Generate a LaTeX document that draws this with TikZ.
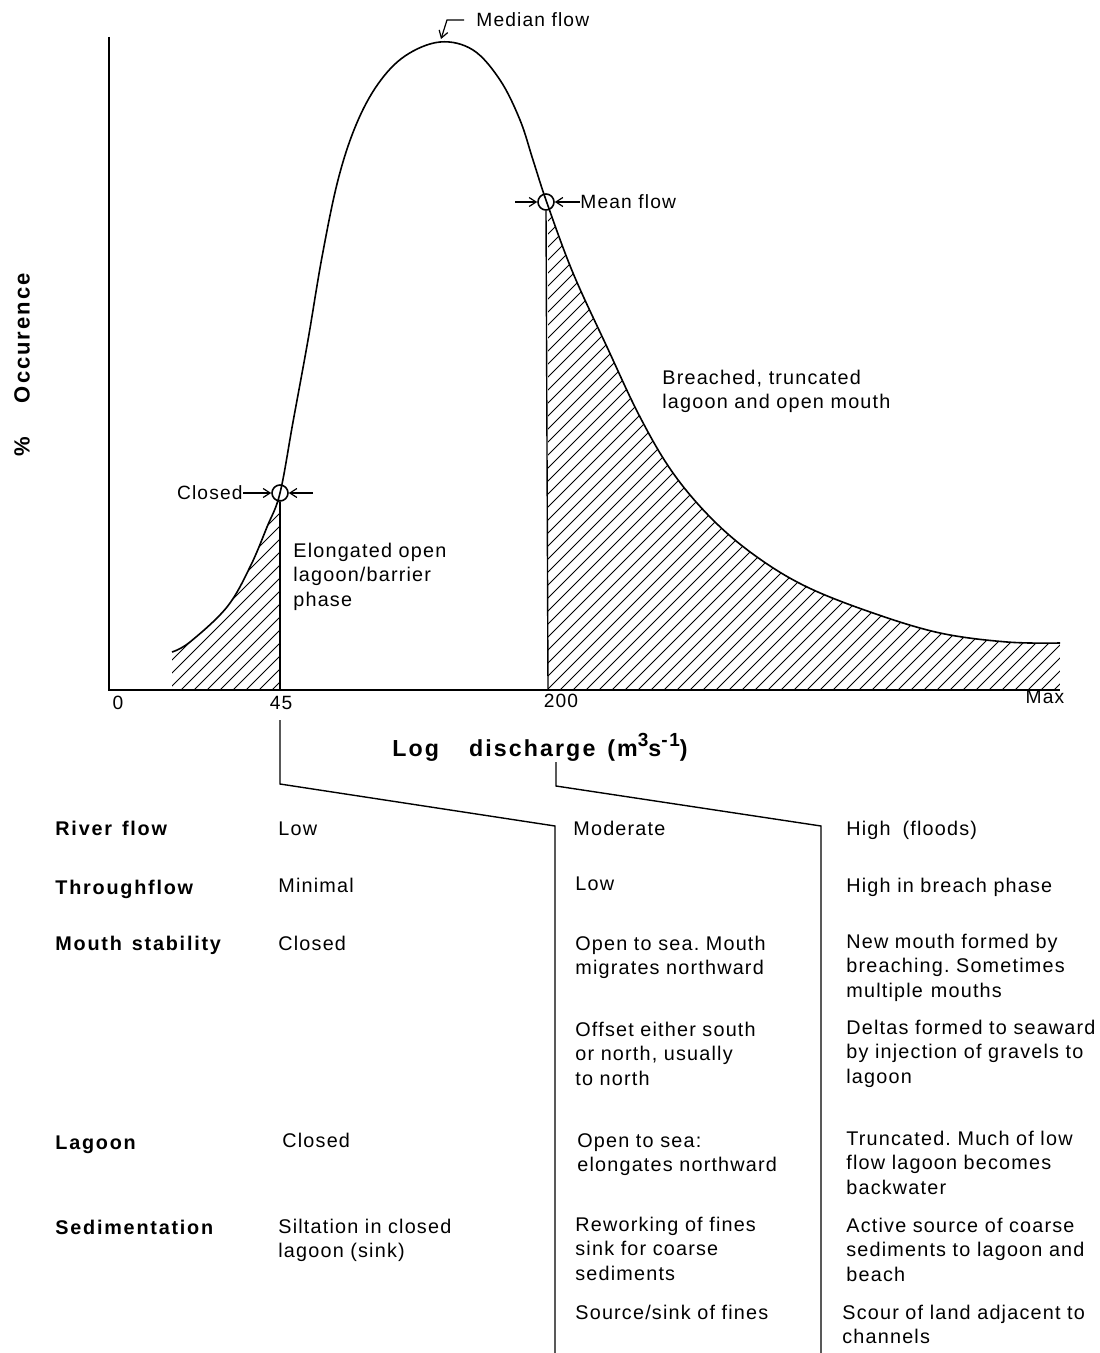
\documentclass[tikz,border=0pt]{standalone}
\usepackage{fontspec}
\setmainfont[LetterSpace=6, BoldFeatures={LetterSpace=9}]{Liberation Sans}
\usetikzlibrary{arrows.meta}

\begin{document}
\frenchspacing
\begin{tikzpicture}[x=0.5pt,y=-0.5pt,
  body/.style={font=\fontsize{9.9}{12.25}\selectfont, anchor=base west,
               inner sep=0pt, text width=200pt, align=left},
  head/.style={body, font=\fontsize{9.9}{12.25}\selectfont\bfseries},
  lbl/.style={font=\fontsize{9.6}{12}\selectfont, inner sep=0pt},
  ring/.style={circle, draw, line width=0.8pt, minimum size=8pt, inner sep=0pt},
  pin/.style={line width=0.6pt, -{Straight Barb[length=3.5pt,width=4.5pt]}},
  hatch/.style={line width=0.45pt},
  axis/.style={line width=1.1pt},
  link/.style={line width=0.7pt},
]
\useasboundingbox (0,0) rectangle (1099,1353);

% frequency curve of discharge
\def\flowcurve{plot[smooth,tension=0.6] coordinates {
  (172,652) (190,642) (227,607) (250,567) (267,527) (280,493) (293,422)
  (308,340) (322,257) (338,180) (356,125) (378,84) (405,56) (440,42)
  (473,50) (500,80) (520,120) (533,160) (547,203) (573,273) (607,347)
  (640,417) (673,473) (713,520) (757,557) (807,587) (873,613) (940,633)
  (1007,642) (1060,643)}}

% hatched areas under the curve
\begin{scope}
  \clip \flowcurve -- (1060,690) -- (172,690) -- cycle;
  \clip (172,0) rectangle (280,690);
  \foreach \k in {0,...,40} \draw[hatch] (-40+13*\k,690) -- ++(600,-600);
\end{scope}
\begin{scope}
  \clip \flowcurve -- (1060,690) -- (172,690) -- cycle;
  \clip (548,0) rectangle (1060,690);
  \foreach \k in {0,...,80} \draw[hatch] (40+13*\k,690) -- ++(600,-600);
\end{scope}

\draw[line width=0.8pt] \flowcurve;

% axes
\draw[axis] (109,37) -- (109,690) -- (1060,690);
\node[lbl] (t0) at (118,703) {0};
\node[lbl] (t45) at (281,703) {45};
\node[lbl] (t200) at (561,701) {200};
\node[lbl] (tmax) at (1045,697) {Max};
\node[font=\fontsize{11.6}{13}\selectfont\bfseries, inner sep=0pt, anchor=west] (xlab) at (392,747)
  {Log\hspace{15pt}discharge\hspace{6pt}(m\raisebox{5pt}{\fontsize{9.5}{10}\selectfont 3}s\raisebox{5pt}{\fontsize{9.5}{10}\selectfont -1})};
\node[font=\fontsize{11}{13}\selectfont\bfseries, inner sep=0pt, rotate=90] (ylab) at (22,365)
  {\%\hspace{17pt}Occurence};

% threshold markers
\node[ring] (closedpt) at (280,493) {};
\node[ring] (meanpt) at (546,202) {};
\draw[link] (closedpt.south) -- (280,690);
\draw[link] (meanpt.south) -- (548,690);

\node[lbl, anchor=east] (closedlbl) at (243,493) {Closed};
\coordinate (closedr) at (313,493);
\draw[pin] (closedlbl.east) -- (closedpt.west);
\draw[pin] (closedr) -- (closedpt.east);

\node[lbl, anchor=west] (meanlbl) at (580,202) {Mean flow};
\coordinate (meanl) at (515,202);
\draw[pin] (meanl) -- (meanpt.west);
\draw[pin] (meanlbl.west) -- (meanpt.east);

\node[lbl, anchor=west] (medlbl) at (476,20) {Median flow};
\coordinate (medianpt) at (441,39);
\draw[pin] ([xshift=-6pt]medlbl.west) -- (447,20) -- (medianpt);

\node[body] (phaseA) at (293,557) {Elongated open\\lagoon/barrier\\phase};
\node[body] (phaseB) at (662,384) {Breached, truncated\\lagoon and open mouth};

% column dividers
\coordinate (c1top) at (280,720);
\coordinate (c1bot) at (555,1353);
\coordinate (c2top) at (556,762);
\coordinate (c2bot) at (821,1353);
\draw[link] (c1top) -- (280,784) -- (555,826) -- (c1bot);
\draw[link] (c2top) -- (556,786) -- (821,826) -- (c2bot);

% row headings
\node[head] (hRiver) at (55,835) {River\hspace{5pt}flow};
\node[head] (hThrough) at (55,894) {Throughflow};
\node[head] (hMouth) at (55,950) {Mouth\hspace{5pt}stability};
\node[head] (hLagoon) at (55,1149) {Lagoon};
\node[head] (hSed) at (55,1234) {Sedimentation};

% low flow column
\node[body] (a1) at (278,835) {Low};
\node[body] (a2) at (278,892) {Minimal};
\node[body] (a3) at (278,950) {Closed};
\node[body] (a4) at (282,1147) {Closed};
\node[body] (a5) at (278,1233) {Siltation in closed\\lagoon (sink)};

% moderate flow column
\node[body] (b1) at (573,835) {Moderate};
\node[body] (b2) at (575,890) {Low};
\node[body] (b3) at (575,950) {Open to sea. Mouth\\migrates northward};
\node[body] (b4) at (575,1036) {Offset either south\\or north, usually\\to north};
\node[body] (b5) at (577,1147) {Open to sea:\\elongates northward};
\node[body] (b6) at (575,1231) {Reworking of fines\\sink for coarse\\sediments};
\node[body] (b7) at (575,1319) {Source/sink of fines};

% high flow column
\node[body] (c1) at (846,835) {High\hspace{6pt}(floods)};
\node[body] (c2) at (846,892) {High in breach phase};
\node[body] (c3) at (846,948) {New mouth formed by\\breaching. Sometimes\\multiple\hspace{4pt}mouths};
\node[body] (c4) at (846,1034) {Deltas formed to seaward\\by injection of gravels to\\lagoon};
\node[body] (c5) at (846,1145) {Truncated. Much of low\\flow lagoon becomes\\backwater};
\node[body] (c6) at (846,1232) {Active source of coarse\\sediments to lagoon and\\beach};
\node[body] (c7) at (842,1319) {Scour of land adjacent to\\channels};
\end{tikzpicture}
\end{document}
